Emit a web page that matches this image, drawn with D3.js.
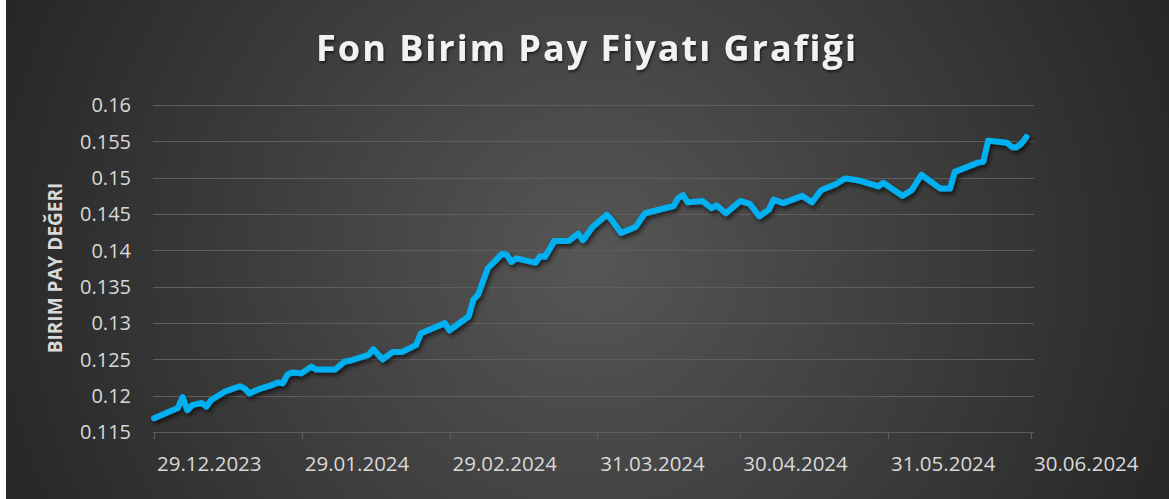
<!DOCTYPE html>
<html>
<head>
<meta charset="utf-8">
<script src="https://cdn.jsdelivr.net/npm/d3@7"></script>
<style>
  html, body { margin: 0; padding: 0; background: #fff; }
  svg { display: block; }
</style>
</head>
<body>
<div id="chart"></div>
<script>
// values
var dates = [
  "2023-12-29","2024-01-03","2024-01-04","2024-01-05","2024-01-06","2024-01-08","2024-01-09","2024-01-10",
  "2024-01-13","2024-01-16","2024-01-17","2024-01-18","2024-01-20","2024-01-22","2024-01-24","2024-01-25",
  "2024-01-26","2024-01-27","2024-01-29","2024-01-31","2024-02-01","2024-02-05","2024-02-07","2024-02-08",
  "2024-02-12","2024-02-13","2024-02-15","2024-02-17","2024-02-19","2024-02-22","2024-02-23","2024-02-27",
  "2024-02-28","2024-02-29","2024-03-04","2024-03-05","2024-03-06","2024-03-08","2024-03-11","2024-03-12",
  "2024-03-13","2024-03-14","2024-03-18","2024-03-19","2024-03-20","2024-03-22","2024-03-25","2024-03-27",
  "2024-03-28","2024-03-30","2024-04-02","2024-04-03","2024-04-05","2024-04-08","2024-04-10","2024-04-16",
  "2024-04-17","2024-04-18","2024-04-19","2024-04-22","2024-04-24","2024-04-25","2024-04-27","2024-04-30",
  "2024-05-02","2024-05-04","2024-05-06","2024-05-07","2024-05-09","2024-05-13","2024-05-15","2024-05-17",
  "2024-05-20","2024-05-22","2024-05-25","2024-05-29","2024-05-30","2024-06-03","2024-06-05","2024-06-07",
  "2024-06-11","2024-06-13","2024-06-14","2024-06-19","2024-06-20","2024-06-21","2024-06-25","2024-06-26",
  "2024-06-27","2024-06-28","2024-06-29"
];
var prices = [
  0.1169,0.1183,0.1198,0.1180,0.1187,0.1190,0.1185,0.1194,
  0.1206,0.1213,0.1210,0.1203,0.1209,0.1213,0.1218,0.1217,
  0.1229,0.1232,0.1231,0.1240,0.1236,0.1236,0.1247,0.1248,
  0.1256,0.1264,0.1250,0.1260,0.1260,0.1270,0.1286,0.1297,
  0.1300,0.1290,0.1309,0.1332,0.1339,0.1375,0.1395,0.1394,
  0.1384,0.1389,0.1383,0.1392,0.1391,0.1413,0.1413,0.1423,
  0.1414,0.1432,0.1449,0.1442,0.1424,0.1432,0.1451,0.1461,
  0.1472,0.1476,0.1466,0.1468,0.1458,0.1462,0.1451,0.1468,
  0.1464,0.1447,0.1456,0.1470,0.1465,0.1475,0.1466,0.1483,
  0.1491,0.1499,0.1496,0.1488,0.1493,0.1475,0.1483,0.1504,
  0.1485,0.1485,0.1508,0.1521,0.1522,0.1551,0.1548,0.1542,
  0.1542,0.1547,0.1556
];
var yTicks = [0.115,0.12,0.125,0.13,0.135,0.14,0.145,0.15,0.155,0.16];
var xTickDates = ["2023-12-29","2024-01-29","2024-02-29","2024-03-31","2024-04-30","2024-05-31","2024-06-30"];
var title = "Fon Birim Pay Fiyatı Grafiği";
var yTitle = "BIRIM PAY DEĞERI";

var W = 1169, H = 499;
var parse = d3.timeParse("%Y-%m-%d");
var fmt = d3.timeFormat("%d.%m.%Y");
var font = "'Open Sans', 'DejaVu Sans', sans-serif";

var svg = d3.select("#chart").append("svg")
    .attr("width", W)
    .attr("height", H);

var defs = svg.append("defs");
var grad = defs.append("radialGradient")
    .attr("id", "bg")
    .attr("gradientUnits", "userSpaceOnUse")
    .attr("cx", 590).attr("cy", 260).attr("r", 640);
grad.append("stop").attr("offset", "0%").attr("stop-color", "#565656");
grad.append("stop").attr("offset", "100%").attr("stop-color", "#262626");

var shadow = defs.append("filter").attr("id", "shadow")
    .attr("x", "-10%").attr("y", "-10%").attr("width", "120%").attr("height", "130%");
shadow.append("feDropShadow")
    .attr("dx", 2).attr("dy", 3).attr("stdDeviation", 2)
    .attr("flood-color", "#000").attr("flood-opacity", 0.6);

var tshadow = defs.append("filter").attr("id", "tshadow");
tshadow.append("feDropShadow")
    .attr("dx", 1).attr("dy", 2).attr("stdDeviation", 1.5)
    .attr("flood-color", "#000").attr("flood-opacity", 0.6);

svg.append("rect")
    .attr("x", 6).attr("y", 0)
    .attr("width", W - 6).attr("height", H)
    .attr("fill", "url(#bg)");

var x = d3.scaleTime()
    .domain([parse(xTickDates[0]), parse(xTickDates[xTickDates.length - 1])])
    .range([154, 1031]);
var y = d3.scaleLinear()
    .domain([0.115, 0.16])
    .range([432, 105]);

// gridlines
svg.append("g")
  .selectAll("line")
  .data(yTicks)
  .enter().append("line")
    .attr("x1", 153).attr("x2", 1034)
    .attr("y1", function(d) { return Math.round(y(d)) + 0.5; })
    .attr("y2", function(d) { return Math.round(y(d)) + 0.5; })
    .attr("stroke", "#5e5e5e")
    .attr("stroke-width", 1.2);

// y labels
svg.append("g")
  .selectAll("text")
  .data(yTicks)
  .enter().append("text")
    .attr("x", 131)
    .attr("y", function(d) { return y(d); })
    .attr("dy", "0.36em")
    .attr("text-anchor", "end")
    .attr("fill", "#d9d9d9")
    .style("font-family", font)
    .style("font-size", "20px")
    .text(function(d) { return String(+d.toFixed(3)); });

// x axis ticks
var xt = xTickDates.map(parse);
svg.append("g")
  .selectAll("line")
  .data(xt)
  .enter().append("line")
    .attr("x1", function(d) { return Math.round(x(d)) + 0.5; })
    .attr("x2", function(d) { return Math.round(x(d)) + 0.5; })
    .attr("y1", 432).attr("y2", 439)
    .attr("stroke", "#5e5e5e")
    .attr("stroke-width", 1.2);

svg.append("g")
  .selectAll("text")
  .data(xt)
  .enter().append("text")
    .attr("x", function(d) { return x(d) + 3; })
    .attr("y", 471)
    .attr("fill", "#d9d9d9")
    .style("font-family", font)
    .style("font-size", "20.5px")
    .text(function(d) { return fmt(d); });

// the line
var pts = dates.map(function(d, i) { return { date: parse(d), value: prices[i] }; });
var line = d3.line()
    .x(function(d) { return x(d.date); })
    .y(function(d) { return y(d.value); });

svg.append("path")
    .datum(pts)
    .attr("d", line)
    .attr("fill", "none")
    .attr("stroke", "#00b0f0")
    .attr("stroke-width", 6)
    .attr("stroke-linejoin", "round")
    .attr("stroke-linecap", "round")
    .attr("filter", "url(#shadow)");

// titles
svg.append("text")
    .attr("x", 587).attr("y", 61)
    .attr("text-anchor", "middle")
    .attr("fill", "#f2f2f2")
    .attr("filter", "url(#tshadow)")
    .style("font-family", font)
    .style("font-weight", "bold")
    .style("font-size", "36px")
    .style("letter-spacing", "2px")
    .text(title);

svg.append("text")
    .attr("transform", "translate(62,268) rotate(-90)")
    .attr("text-anchor", "middle")
    .attr("fill", "#d9d9d9")
    .style("font-family", font)
    .style("font-weight", "bold")
    .style("font-size", "19px")
    .text(yTitle);
</script>
</body>
</html>
